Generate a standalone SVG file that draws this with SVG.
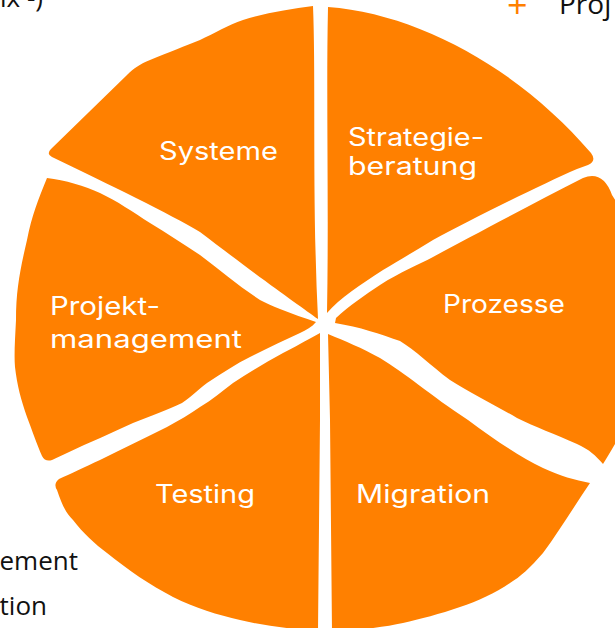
<svg xmlns="http://www.w3.org/2000/svg" width="615" height="628" viewBox="0 0 615 628">
<style>
.seg{fill:#ff8000;}
.lbl{fill:#ffffff;font-family:Inter,"Noto Sans",sans-serif;font-size:25px;}
.ext{fill:#111111;font-family:"Open Sans","Noto Sans",sans-serif;font-size:26px;}
</style>
<rect width="615" height="628" fill="#ffffff"/>
<g id="outside-text">
<text class="ext" x="0" y="7">ix -)</text>
<text x="507" y="18" style="fill:#ff8000;font-family:'Open Sans',sans-serif;font-size:36px;">+</text>
<text class="ext" x="559" y="14" style="font-size:28px;">Proj</text>
<text class="ext" x="78" y="570" text-anchor="end">ement</text>
<text class="ext" x="47" y="615" text-anchor="end">tion</text>
</g>
<g id="systeme">
<path class="seg" d="M318,319 C300,306 260,278 200,232 C170,214 110,185 52,157 Q46,154 51,149 L127,75 C134,68 140,64 150,60 C170,52 185,46 200,40 C215,33 228,25 243,20 C265,13 290,9 313,6 C316,80 312,200 318,319 Z"/>
<text class="lbl" x="159" y="160" textLength="119" lengthAdjust="spacingAndGlyphs">Systeme</text>
</g>
<g id="strategieberatung">
<path class="seg" d="M328,7 C420,14 520,70 591,153 Q597,161 588,165 L577,169 C540,185 470,220 433,240 C415,251 398,261 383,270 C360,285 340,298 327,313 C329,200 326,100 328,7 Z"/>
<text class="lbl" x="348" y="146" textLength="136" lengthAdjust="spacingAndGlyphs">Strategie-</text>
<text class="lbl" x="348" y="175" textLength="129" lengthAdjust="spacingAndGlyphs">beratung</text>
</g>
<g id="prozesse">
<path class="seg" d="M336,318 C350,305 365,295 380,285 C400,272 420,264 433,257 C470,237 530,205 583,178 Q603,170 612,195 L640,240 L640,430 L615,444 Q608,456 603,464 C595,455 590,450 577,444 C555,434 535,427 517,418 C495,405 470,393 450,380 C430,365 415,350 400,341 C380,334 360,327 335,323 Z"/>
<text class="lbl" x="443" y="313" textLength="122" lengthAdjust="spacingAndGlyphs">Prozesse</text>
</g>
<g id="migration">
<path class="seg" d="M328,334 C345,341 362,348 380,358 C405,373 430,395 468,420 C495,440 520,457 543,468 C560,476 575,480 590,483 C575,505 560,530 543,553 C530,568 520,577 510,583 C495,593 478,601 460,607 C440,614 420,619 403,623 C385,627 360,630 332,632 L330,420 Z"/>
<text class="lbl" x="356" y="503" textLength="134" lengthAdjust="spacingAndGlyphs">Migration</text>
</g>
<g id="testing">
<path class="seg" d="M320,333 C305,341 295,347 283,353 C265,363 248,373 233,383 C222,391 212,400 200,407 C190,414 178,421 167,427 C145,438 122,449 100,460 C85,467 70,474 59,479 Q53,484 57,490 C62,505 66,513 73,520 C83,533 95,544 107,553 C128,570 150,585 173,597 C195,608 218,615 240,620 C265,626 292,629 318,631 L320,420 Z"/>
<text class="lbl" x="155" y="503" textLength="100" lengthAdjust="spacingAndGlyphs">Testing</text>
</g>
<g id="projektmanagement">
<path class="seg" d="M316,322 C305,318 292,314 280,309 C272,306 266,303 260,300 C240,287 220,270 200,255 C183,244 167,233 150,223 C133,212 117,201 100,193 C85,186 65,180 47,178 C38,200 32,215 27,240 C20,270 16,290 16,320 C15,340 14,355 15,367 C17,385 21,400 27,417 C32,430 37,445 42,456 Q45,462 52,460 C57,458 62,455 67,453 C90,442 112,433 133,423 C150,416 168,410 182,403 C192,396 198,390 207,383 C222,373 236,364 250,357 C268,348 285,340 300,333 C306,330 312,327 316,322 Z"/>
<text class="lbl" x="50" y="315" textLength="110" lengthAdjust="spacingAndGlyphs">Projekt-</text>
<text class="lbl" x="50" y="348" textLength="192" lengthAdjust="spacingAndGlyphs">management</text>
</g>
</svg>
